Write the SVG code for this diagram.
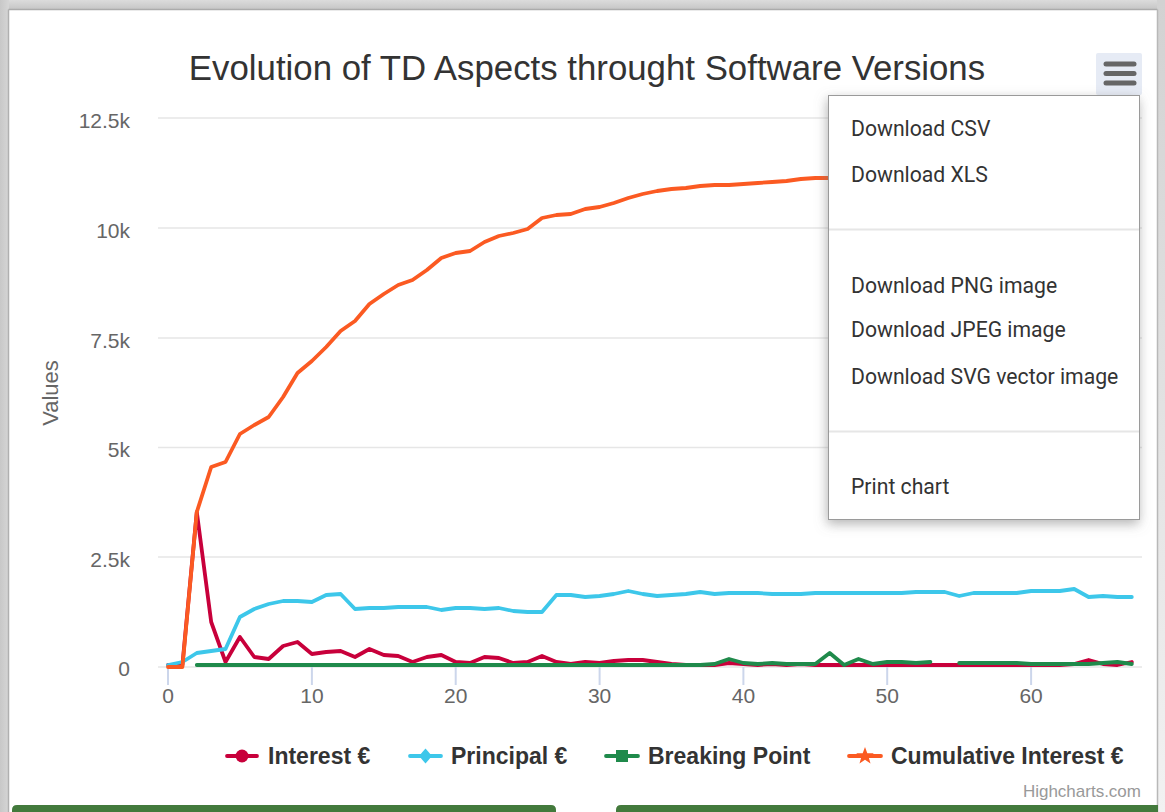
<svg xmlns="http://www.w3.org/2000/svg" width="1165" height="812" viewBox="0 0 1165 812">
<style>
.grid{stroke:#e6e6e6;stroke-width:1.6;fill:none}
.tick{stroke:#ccd6eb;stroke-width:2;fill:none}
.ylab{font-family:"Liberation Sans",Arial,sans-serif;font-size:21px;fill:#666;text-anchor:end}
.xlab{font-family:"Liberation Sans",Arial,sans-serif;font-size:21px;fill:#666;text-anchor:middle}
.series{fill:none;stroke-width:3.8;stroke-linejoin:round;stroke-linecap:round}
.leg{font-family:"Liberation Sans",Arial,sans-serif;font-size:23px;font-weight:bold;fill:#333}
.menuitem{font-family:Roboto,"Liberation Sans",sans-serif;font-size:21.2px;fill:#333}
.sep{stroke:#e6e6e6;stroke-width:2}
.c-int{stroke:#c8003b}
.c-pri{stroke:#3dc7ea}
.c-brk{stroke:#1f8a4b}
.c-cum{stroke:#fb5a22}
</style>
<defs>
<filter id="shadow" x="-10%" y="-10%" width="125%" height="125%">
<feDropShadow dx="-1" dy="4" stdDeviation="6" flood-color="#777" flood-opacity="0.55"/>
</filter>
<linearGradient id="topband" x1="0" y1="0" x2="0" y2="1">
<stop offset="0" stop-color="#dcdcdc"/><stop offset="1" stop-color="#c4c4c4"/>
</linearGradient>
<linearGradient id="leftband" x1="0" y1="0" x2="1" y2="0">
<stop offset="0" stop-color="#c8c8c8"/><stop offset="1" stop-color="#d6d6d6"/>
</linearGradient>
<linearGradient id="rightband" x1="0" y1="0" x2="0" y2="1">
<stop offset="0" stop-color="#d2d2d2"/><stop offset="1" stop-color="#f2f2f2"/>
</linearGradient>
</defs>

<g id="frame">
<rect x="0" y="0" width="1165" height="812" fill="#ffffff"/>
<rect x="0" y="0" width="1165" height="10" fill="url(#topband)"/>
<rect x="0" y="0" width="9" height="812" fill="url(#leftband)"/>
<rect x="1157" y="0" width="8" height="812" fill="url(#rightband)"/>
<line x1="8.5" y1="9.5" x2="1157.5" y2="9.5" stroke="#ababab" stroke-width="1.5"/>
<line x1="8.5" y1="9.5" x2="8.5" y2="812" stroke="#b0b0b0" stroke-width="1.5"/>
<line x1="1157.5" y1="9.5" x2="1157.5" y2="812" stroke="#b8b8b8" stroke-width="1.5"/>
<path d="M12,812 V810 Q12,805 17,805 H551 Q556,805 556,810 V812 Z" fill="#437a3c"/>
<path d="M616,812 V810 Q616,805 621,805 H1158 V812 Z" fill="#437a3c"/>
</g>

<g id="title">
<text x="587" y="80" font-family="'Liberation Sans',Arial,sans-serif" font-size="34.8" fill="#333" text-anchor="middle">Evolution of TD Aspects throught Software Versions</text>
</g>

<g id="grid">
<line class="grid" x1="158" y1="118" x2="1142" y2="118"/>
<line class="grid" x1="158" y1="228" x2="1142" y2="228"/>
<line class="grid" x1="158" y1="338" x2="1142" y2="338"/>
<line class="grid" x1="158" y1="447.5" x2="1142" y2="447.5"/>
<line class="grid" x1="158" y1="557" x2="1142" y2="557"/>
<line class="grid" x1="158" y1="667" x2="1142" y2="667"/>
</g>

<g id="y-axis">
<text class="ylab" x="130" y="128">12.5k</text>
<text class="ylab" x="130" y="238">10k</text>
<text class="ylab" x="130" y="348">7.5k</text>
<text class="ylab" x="130" y="457">5k</text>
<text class="ylab" x="130" y="567">2.5k</text>
<text class="ylab" x="130" y="676">0</text>
<text x="58" y="393" transform="rotate(-90 58 393)" font-family="'Liberation Sans',Arial,sans-serif" font-size="22" fill="#666" text-anchor="middle">Values</text>
</g>

<g id="x-axis">
<line class="tick" x1="168" y1="667" x2="168" y2="685"/>
<line class="tick" x1="311.9" y1="667" x2="311.9" y2="685"/>
<line class="tick" x1="455.7" y1="667" x2="455.7" y2="685"/>
<line class="tick" x1="599.6" y1="667" x2="599.6" y2="685"/>
<line class="tick" x1="743.4" y1="667" x2="743.4" y2="685"/>
<line class="tick" x1="887.2" y1="667" x2="887.2" y2="685"/>
<line class="tick" x1="1031.1" y1="667" x2="1031.1" y2="685"/>
<text class="xlab" x="168" y="703">0</text>
<text class="xlab" x="311.9" y="703">10</text>
<text class="xlab" x="455.7" y="703">20</text>
<text class="xlab" x="599.6" y="703">30</text>
<text class="xlab" x="743.4" y="703">40</text>
<text class="xlab" x="887.2" y="703">50</text>
<text class="xlab" x="1031.1" y="703">60</text>
</g>

<g id="series">
<polyline id="interest" class="series c-int" points="168,665 182.4,665 196.8,512 211.2,622 225.5,662 239.9,637 254.3,657 268.7,659 283.1,646 297.5,642 311.9,654 326.2,652 340.6,651 355,657 369.4,649 383.8,655 398.2,656 412.5,662 426.9,657 441.3,655 455.7,662 470.1,663 484.5,657 498.9,658 513.2,663 527.6,662 542,656 556.4,662 570.8,664 585.2,662 599.6,663 613.9,661 628.3,660 642.7,660 657.1,662 671.5,664 685.9,665 700.2,665 714.6,665 729,663 743.4,664 757.8,665 772.2,664 786.5,665 800.9,664 815.3,665 829.7,665 844.1,665 858.5,665 872.9,665 887.2,665 901.6,665 916,665 930.4,665 944.8,665 959.2,665 973.5,665 987.9,665 1002.3,665 1016.7,665 1031.1,665 1045.5,665 1059.8,665 1074.2,664 1088.6,660 1103,664 1117.4,665 1131.8,662"/>
<polyline id="principal" class="series c-pri" points="168,665 182.4,662 196.8,653 211.2,651 225.5,649 239.9,617 254.3,609 268.7,604 283.1,601 297.5,601 311.9,602 326.2,595 340.6,594 355,609 369.4,608 383.8,608 398.2,607 412.5,607 426.9,607 441.3,610 455.7,608 470.1,608 484.5,609 498.9,608 513.2,611 527.6,612 542,612 556.4,595 570.8,595 585.2,597 599.6,596 613.9,594 628.3,591 642.7,594 657.1,596 671.5,595 685.9,594 700.2,592 714.6,594 729,593 743.4,593 757.8,593 772.2,594 786.5,594 800.9,594 815.3,593 829.7,593 844.1,593 858.5,593 872.9,593 887.2,593 901.6,593 916,592 930.4,592 944.8,592 959.2,596 973.5,593 987.9,593 1002.3,593 1016.7,593 1031.1,591 1045.5,591 1059.8,591 1074.2,589 1088.6,597 1103,596 1117.4,597 1131.8,597"/>
<polyline id="breaking-a" class="series c-brk" points="196.8,665 700.2,665 714.6,664 729,659 743.4,663 757.8,664 772.2,663 786.5,664 800.9,664 815.3,664 829.7,653 844.1,665 858.5,659 872.9,664 887.2,662 901.6,662 916,663 930.4,662"/>
<polyline id="breaking-b" class="series c-brk" points="959.2,663 973.5,663 987.9,663 1002.3,663 1016.7,663 1031.1,664 1045.5,664 1059.8,664 1074.2,664 1088.6,664 1103,663 1117.4,662 1131.8,664"/>
<polyline id="cumulative" class="series c-cum" points="168,667 182.4,667 196.8,512 211.2,467 225.5,462 239.9,434 254.3,425 268.7,417 283.1,397 297.5,373 311.9,361 326.2,347 340.6,331 355,321 369.4,304 383.8,294 398.2,285 412.5,280 426.9,270 441.3,258 455.7,253 470.1,251 484.5,242 498.9,236 513.2,233 527.6,229 542,218 556.4,215 570.8,214 585.2,209 599.6,207 613.9,203 628.3,198 642.7,194 657.1,191 671.5,189 685.9,188 700.2,186 714.6,185 729,185 743.4,184 757.8,183 772.2,182 786.5,181 800.9,179 815.3,178 829.7,178 844.1,177 887.2,176 959.2,175 1031.1,174 1131.8,172"/>
</g>

<g id="legend">
<g id="leg-interest">
<line class="series c-int" x1="227" y1="756" x2="257" y2="756" stroke-linecap="butt"/>
<circle cx="242" cy="756" r="6.5" fill="#c8003b"/>
<text class="leg" x="268" y="764">Interest €</text>
</g>
<g id="leg-principal">
<line class="series c-pri" x1="410" y1="756" x2="441" y2="756" stroke-linecap="butt"/>
<path d="M425.5,748.5 L432,756 L425.5,763.5 L419,756 Z" fill="#3dc7ea"/>
<text class="leg" x="451" y="764">Principal €</text>
</g>
<g id="leg-breaking">
<line class="series c-brk" x1="606" y1="756" x2="638" y2="756" stroke-linecap="butt"/>
<rect x="616" y="750" width="12" height="12" fill="#1f8a4b"/>
<text class="leg" x="648" y="764">Breaking Point</text>
</g>
<g id="leg-cumulative">
<line class="series c-cum" x1="849" y1="756" x2="881" y2="756" stroke-linecap="butt"/>
<path d="M865,747 L867.3,753.2 L873.8,753.3 L868.7,757.3 L870.5,763.5 L865,759.8 L859.5,763.5 L861.3,757.3 L856.2,753.3 L862.7,753.2 Z" fill="#fb5a22"/>
<text class="leg" x="891" y="764">Cumulative Interest €</text>
</g>
</g>

<g id="credits">
<text x="1141" y="797" font-family="'Liberation Sans',Arial,sans-serif" font-size="17" fill="#999" text-anchor="end">Highcharts.com</text>
</g>

<g id="menu-button">
<rect x="1096" y="53" width="46" height="42" rx="2" fill="#e6ebf5"/>
<line x1="1106" y1="64" x2="1134" y2="64" stroke="#666" stroke-width="5" stroke-linecap="round"/>
<line x1="1106" y1="73.5" x2="1134" y2="73.5" stroke="#666" stroke-width="5" stroke-linecap="round"/>
<line x1="1106" y1="83" x2="1134" y2="83" stroke="#666" stroke-width="5" stroke-linecap="round"/>
</g>

<g id="menu">
<rect x="828.5" y="95.5" width="311" height="424" fill="#ffffff" stroke="#9a9a9a" stroke-width="1" filter="url(#shadow)"/>
<text class="menuitem" x="851" y="135.5">Download CSV</text>
<text class="menuitem" x="851" y="181.5">Download XLS</text>
<line class="sep" x1="829" y1="229.5" x2="1139" y2="229.5"/>
<text class="menuitem" x="851" y="292.5">Download PNG image</text>
<text class="menuitem" x="851" y="336.5">Download JPEG image</text>
<text class="menuitem" x="851" y="383.5">Download SVG vector image</text>
<line class="sep" x1="829" y1="431.5" x2="1139" y2="431.5"/>
<text class="menuitem" x="851" y="493.5">Print chart</text>
</g>
</svg>
